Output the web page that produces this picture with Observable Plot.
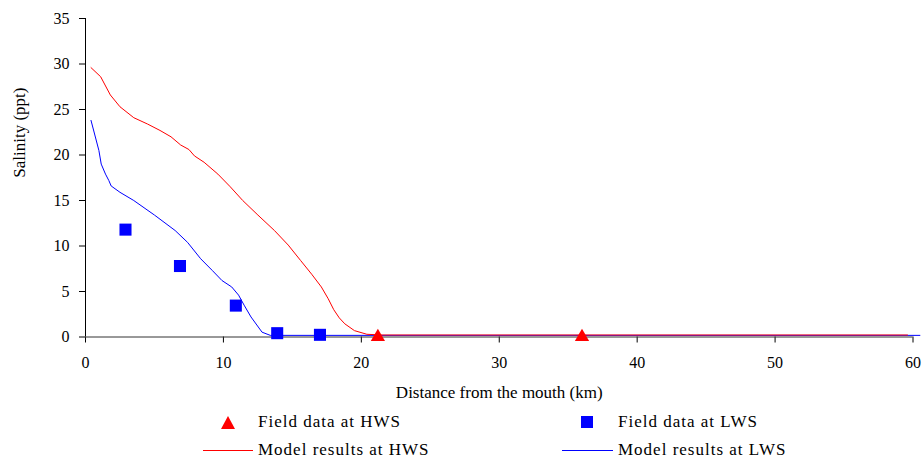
<!DOCTYPE html>
<html>
<head>
<meta charset="utf-8">
<script src="https://cdn.jsdelivr.net/npm/d3@7"></script>
<script src="https://cdn.jsdelivr.net/npm/@observablehq/plot@0.6"></script>
<style>
  html, body { margin: 0; padding: 0; background: #fff; }
  #wrap { position: relative; width: 922px; height: 460px; font-family: "Liberation Serif", "Times New Roman", serif; }
  #wrap svg.plot { position: absolute; left: 0; top: 0; }
  .lg { position: absolute; font-size: 17px; letter-spacing: 1px; line-height: 20px; white-space: nowrap; color: #000; }
  .sw { position: absolute; overflow: visible; }
</style>
</head>
<body>
<div id="wrap"></div>
<script>
// Model results at high water slack (HWS)
const hwsModelX = [0.4, 1.1, 1.8, 2.5, 3.5, 4.5, 5.4, 6.2, 6.9, 7.5, 7.9, 8.6, 9.6, 10.5, 11.4, 12.5, 13.7, 14.7, 15.6, 16.4, 17.1, 17.6, 18.0, 18.4, 18.8, 19.5, 20.4, 21.5, 59.6];
const hwsModelY = [29.6, 28.6, 26.6, 25.3, 24.1, 23.4, 22.7, 22.0, 21.1, 20.6, 19.9, 19.2, 17.9, 16.5, 15.0, 13.4, 11.7, 10.1, 8.4, 6.9, 5.5, 4.2, 3.0, 2.1, 1.45, 0.7, 0.3, 0.22, 0.22];
// Model results at low water slack (LWS)
const lwsModelX = [0.4, 0.97, 1.14, 1.45, 1.69, 1.86, 2.5, 3.5, 5.0, 6.5, 7.4, 8.35, 9.2, 9.9, 10.6, 11.1, 11.5, 12.0, 12.8, 13.4, 60.5];
const lwsModelY = [23.8, 20.5, 19.0, 17.9, 17.2, 16.6, 15.9, 15.0, 13.4, 11.7, 10.4, 8.6, 7.3, 6.2, 5.5, 4.6, 3.5, 2.2, 0.53, 0.18, 0.18];
// Field data
const hwsFieldX = [21.2, 36.0];
const hwsFieldY = [0.0, 0.0];
const lwsFieldX = [2.9, 6.85, 10.9, 13.9, 17.0];
const lwsFieldY = [11.8, 7.8, 3.45, 0.42, 0.24];
// Axis ticks and labels
const xTicks = [0, 10, 20, 30, 40, 50, 60];
const yTicks = [0, 5, 10, 15, 20, 25, 30, 35];
const xTitle = "Distance from the mouth (km)";
const yTitle = "Salinity (ppt)";
const legendLabels = ["Field data at HWS", "Field data at LWS", "Model results at HWS", "Model results at LWS"];
const red = "#ff0000", blue = "#0000ff";
const serif = "Liberation Serif";

const zip = (xs, ys) => xs.map((x, i) => ({x, y: ys[i]}));
const hwsModel = zip(hwsModelX, hwsModelY);
const lwsModel = zip(lwsModelX, lwsModelY);
const hwsField = zip(hwsFieldX, hwsFieldY);
const lwsField = zip(lwsFieldX, lwsFieldY);

const chart = Plot.plot({
  width: 922,
  height: 410,
  marginTop: 18,
  marginBottom: 73.5,
  marginLeft: 85,
  marginRight: 9.5,
  style: {background: "#fff"},
  x: {domain: [0, 60], ticks: xTicks},
  y: {domain: [0, 35], ticks: yTicks},
  marks: [
    Plot.axisY({ticks: yTicks, tickSize: 6, tickPadding: 10, label: null, stroke: "#000", fontSize: 16, fontFamily: serif}),
    Plot.axisX({ticks: xTicks, tickSize: 6, tickPadding: 14, label: null, stroke: "#000", fontSize: 16, fontFamily: serif}),
    Plot.ruleX([0], {stroke: "#000"}),
    Plot.line(lwsModel, {x: "x", y: "y", stroke: blue, strokeWidth: 1}),
    Plot.line(hwsModel, {x: "x", y: "y", stroke: red, strokeWidth: 1}),
    Plot.ruleY([0], {stroke: "#333"}),
    Plot.dot(lwsField, {x: "x", y: "y", symbol: "square", r: 6.8, fill: blue, stroke: "none"}),
    Plot.dot(hwsField, {x: "x", y: "y", symbol: "triangle", r: 5.3, fill: red, stroke: "none"}),
    Plot.text([xTitle], {frameAnchor: "bottom", dy: 61, text: d => d, fontSize: 17, fontFamily: serif}),
    Plot.text([yTitle], {frameAnchor: "left", dx: -66, rotate: -90, text: d => d, fontSize: 17, fontFamily: serif})
  ]
});
chart.classList.add("plot");
chart.setAttribute("font-family", serif);
chart.querySelectorAll("text").forEach(t => {
  t.setAttribute("font-family", serif);
  t.style.fontFamily = '"Liberation Serif", serif';
});
const wrap = document.getElementById("wrap");
wrap.appendChild(chart);

// Legend below the chart
function addText(label, left, cy) {
  const s = document.createElement("span");
  s.className = "lg";
  s.textContent = label;
  s.style.left = left + "px";
  s.style.top = (cy - 10) + "px";
  wrap.appendChild(s);
}
function addSwatch(left, top, w, h, inner) {
  const ns = "http://www.w3.org/2000/svg";
  const svg = document.createElementNS(ns, "svg");
  svg.setAttribute("class", "sw");
  svg.setAttribute("width", w);
  svg.setAttribute("height", h);
  svg.style.left = left + "px";
  svg.style.top = top + "px";
  svg.innerHTML = inner;
  wrap.appendChild(svg);
}
addSwatch(221, 416, 14, 13, `<path d="M7,0L14,13L0,13Z" fill="${red}"/>`);
addText(legendLabels[0], 258, 422);
addSwatch(581, 416, 12, 12, `<rect x="0" y="0" width="12" height="12" fill="${blue}"/>`);
addText(legendLabels[1], 618, 422);
addSwatch(203, 450, 50, 1, `<line x1="0" y1="0.5" x2="50" y2="0.5" stroke="${red}" stroke-width="1"/>`);
addText(legendLabels[2], 258, 450);
addSwatch(562, 450, 51, 1, `<line x1="0" y1="0.5" x2="51" y2="0.5" stroke="${blue}" stroke-width="1"/>`);
addText(legendLabels[3], 618, 450);
</script>
</body>
</html>
